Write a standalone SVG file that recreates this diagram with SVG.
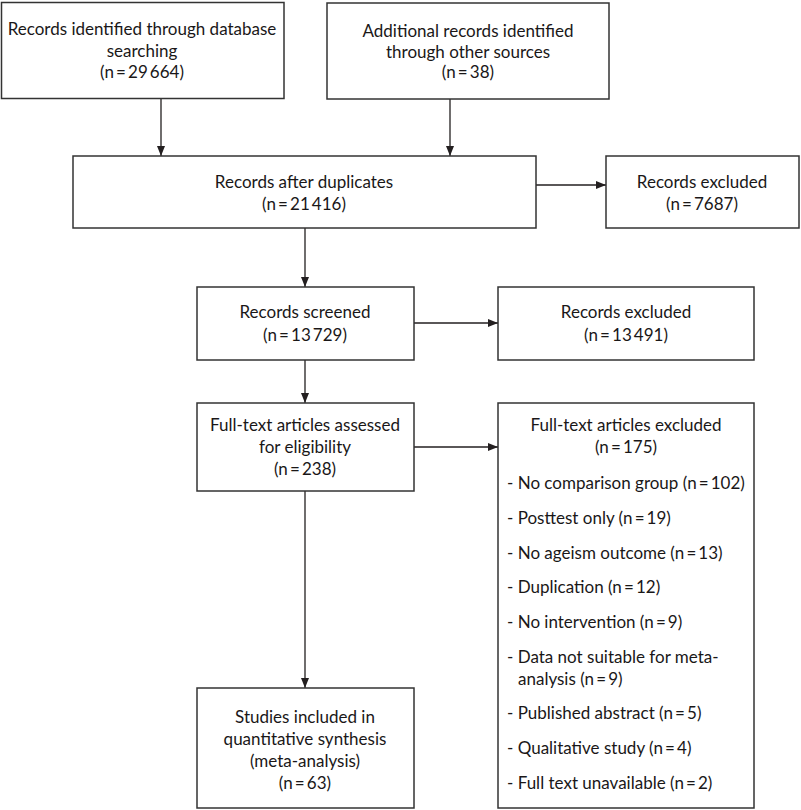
<svg xmlns="http://www.w3.org/2000/svg" width="801" height="810" viewBox="0 0 801 810">
<defs>
<style>
.box{fill:#fff;stroke:#333;stroke-width:1.5}
.t{font-family:Lato,"Open Sans",sans-serif;font-size:17px;fill:#1a1718;text-anchor:middle}
.l{font-family:Lato,"Open Sans",sans-serif;font-size:17px;fill:#1a1718}
.c{stroke:#231f20;stroke-width:1.3;fill:none;marker-end:url(#ah)}
</style>
<marker id="ah" markerWidth="10" markerHeight="8" refX="10" refY="4" orient="auto" markerUnits="userSpaceOnUse">
<path d="M0,0 L10,4 L0,8 Z" fill="#231f20"/>
</marker>
</defs>
<rect width="801" height="810" fill="#fff"/>
<g id="connectors">
<line class="c" x1="161" y1="99" x2="161" y2="156"/>
<line class="c" x1="450" y1="99" x2="450" y2="156"/>
<line class="c" x1="536" y1="185" x2="606" y2="185"/>
<line class="c" x1="305" y1="228" x2="305" y2="287"/>
<line class="c" x1="414" y1="323" x2="498" y2="323"/>
<line class="c" x1="305" y1="360" x2="305" y2="403"/>
<line class="c" x1="414" y1="447" x2="498" y2="447"/>
<line class="c" x1="305" y1="491" x2="305" y2="688"/>
</g>
<g id="n1">
<rect class="box" x="1.5" y="2.5" width="282.5" height="96"/>
<text class="t" x="142" y="35">Records identified through database</text>
<text class="t" x="142" y="57">searching</text>
<text class="t" x="142" y="78">(n&#8201;=&#8201;29&#8201;664)</text>
</g>
<g id="n2">
<rect class="box" x="327" y="3" width="282" height="96"/>
<text class="t" x="468" y="37">Additional records identified</text>
<text class="t" x="468" y="58">through other sources</text>
<text class="t" x="468" y="78">(n&#8201;=&#8201;38)</text>
</g>
<g id="n3">
<rect class="box" x="73" y="156" width="463" height="72"/>
<text class="t" x="304" y="188">Records after duplicates</text>
<text class="t" x="304" y="210">(n&#8201;=&#8201;21&#8201;416)</text>
</g>
<g id="n4">
<rect class="box" x="606" y="156" width="193" height="72"/>
<text class="t" x="702" y="188">Records excluded</text>
<text class="t" x="702" y="210">(n&#8201;=&#8201;7687)</text>
</g>
<g id="n5">
<rect class="box" x="197" y="287" width="217" height="73"/>
<text class="t" x="305" y="318">Records screened</text>
<text class="t" x="305" y="341">(n&#8201;=&#8201;13&#8201;729)</text>
</g>
<g id="n6">
<rect class="box" x="498" y="287" width="256" height="73"/>
<text class="t" x="626" y="318">Records excluded</text>
<text class="t" x="626" y="341">(n&#8201;=&#8201;13&#8201;491)</text>
</g>
<g id="n7">
<rect class="box" x="197" y="403" width="217" height="88"/>
<text class="t" x="305" y="431">Full-text articles assessed</text>
<text class="t" x="305" y="453">for eligibility</text>
<text class="t" x="305" y="475">(n&#8201;=&#8201;238)</text>
</g>
<g id="n8">
<rect class="box" x="498" y="403" width="256" height="405"/>
<text class="t" x="626" y="431">Full-text articles excluded</text>
<text class="t" x="626" y="453">(n&#8201;=&#8201;175)</text>
<text class="l" x="507" y="489">- No comparison group (n&#8201;=&#8201;102)</text>
<text class="l" x="507" y="524">- Posttest only (n&#8201;=&#8201;19)</text>
<text class="l" x="507" y="559">- No ageism outcome (n&#8201;=&#8201;13)</text>
<text class="l" x="507" y="593">- Duplication (n&#8201;=&#8201;12)</text>
<text class="l" x="507" y="628">- No intervention (n&#8201;=&#8201;9)</text>
<text class="l" x="507" y="663">- Data not suitable for meta-</text>
<text class="l" x="518" y="685">analysis (n&#8201;=&#8201;9)</text>
<text class="l" x="507" y="719">- Published abstract (n&#8201;=&#8201;5)</text>
<text class="l" x="507" y="754">- Qualitative study (n&#8201;=&#8201;4)</text>
<text class="l" x="507" y="789">- Full text unavailable (n&#8201;=&#8201;2)</text>
</g>
<g id="n9">
<rect class="box" x="197" y="688" width="217" height="120"/>
<text class="t" x="305" y="723">Studies included in</text>
<text class="t" x="305" y="745">quantitative synthesis</text>
<text class="t" x="305" y="767">(meta-analysis)</text>
<text class="t" x="305" y="789">(n&#8201;=&#8201;63)</text>
</g>
</svg>
